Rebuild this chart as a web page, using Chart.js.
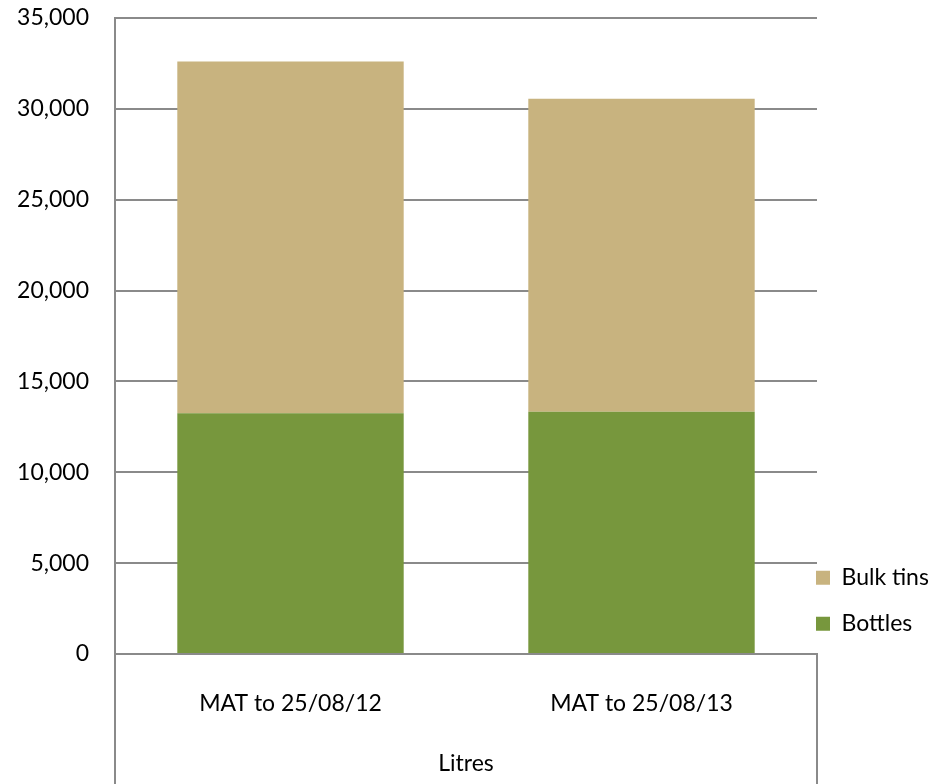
<!DOCTYPE html>
<html>
<head>
<meta charset="utf-8">
<script src="https://cdn.jsdelivr.net/npm/chart.js@4"></script>
<style>
  html, body { margin: 0; padding: 0; background: #fff; }
  #wrap { width: 931px; height: 784px; }
</style>
</head>
<body>
<div id="wrap"><canvas id="c" width="931" height="784"></canvas></div>
<script>
// Volume sold, moving annual totals (litres)
const categories = ['MAT to 25/08/12', 'MAT to 25/08/13'];
const bottles = [13250, 13330];
const bulkTins = [19350, 17220];
const yTicks = [0, 5000, 10000, 15000, 20000, 25000, 30000, 35000];
const axisTitle = 'Litres';

const FONT = 'Lato, "Open Sans", sans-serif';
const LINE = '#8a8a8a';

// Tick lines under the category axis, at both ends of the plot area
const categoryFrame = {
  id: 'categoryFrame',
  afterDraw(chart) {
    const x = chart.scales.x;
    const ctx = chart.ctx;
    ctx.save();
    ctx.strokeStyle = LINE;
    ctx.lineWidth = 2;
    ctx.beginPath();
    [x.left, x.right].forEach(px => {
      ctx.moveTo(px, x.top);
      ctx.lineTo(px, chart.height);
    });
    ctx.stroke();
    ctx.restore();
  }
};

// Places the legend just right of the plot area, near its bottom
const legendPlacement = {
  id: 'legendPlacement',
  afterLayout(chart) {
    const lg = chart.legend;
    if (!lg) return;
    const pad = lg.options.labels.padding;
    const area = chart.chartArea;
    lg.left = area.right - 1 - pad;
    lg.right = chart.width;
    lg.width = lg.right - lg.left;
    lg.top = chart.scales.y.getPixelForValue(4450) - 9.5 - pad;
    lg.bottom = lg.top + 120;
    lg.height = lg.bottom - lg.top;
  }
};

new Chart(document.getElementById('c'), {
  type: 'bar',
  data: {
    labels: categories,
    datasets: [
      { label: 'Bottles', data: bottles, backgroundColor: '#77973D', borderWidth: 0 },
      { label: 'Bulk tins', data: bulkTins, backgroundColor: '#C8B37F', borderWidth: 0 }
    ]
  },
  options: {
    responsive: false,
    animation: false,
    events: [],
    layout: { padding: { top: 18, right: 0, bottom: 0, left: 0 } },
    datasets: { bar: { categoryPercentage: 1, barPercentage: 0.645 } },
    plugins: {
      tooltip: { enabled: false },
      legend: {
        position: 'right',
        reverse: true,
        maxWidth: 114,
        labels: {
          boxWidth: 14,
          boxHeight: 14,
          padding: 23,
          color: '#000',
          font: { family: FONT, size: 23 },
          generateLabels(chart) {
            return Chart.defaults.plugins.legend.labels.generateLabels(chart)
              .map(item => Object.assign(item, { lineWidth: 0 }));
          }
        }
      }
    },
    scales: {
      x: {
        stacked: true,
        grid: { display: false },
        border: { display: true, color: LINE, width: 2 },
        ticks: { color: '#000', font: { family: FONT, size: 23 }, padding: 28, maxRotation: 0 },
        title: { display: true, text: axisTitle, color: '#000', font: { family: FONT, size: 23 }, padding: { top: 0, bottom: 7 } },
        afterFit(scale) { scale.height = 130; }
      },
      y: {
        stacked: true,
        min: yTicks[0],
        max: yTicks[yTicks.length - 1],
        afterBuildTicks(scale) { scale.ticks = yTicks.map(v => ({ value: v })); },
        grid: { color: LINE, lineWidth: 2, drawTicks: true, tickLength: 26, tickColor: 'rgba(0,0,0,0)' },
        border: { display: true, color: LINE, width: 2 },
        ticks: {
          color: '#000',
          padding: 0,
          font: { family: FONT, size: 23 },
          callback: v => v.toLocaleString('en-US')
        },
        afterFit(scale) { scale.width = 115; }
      }
    }
  },
  plugins: [categoryFrame, legendPlacement]
});
</script>
</body>
</html>
